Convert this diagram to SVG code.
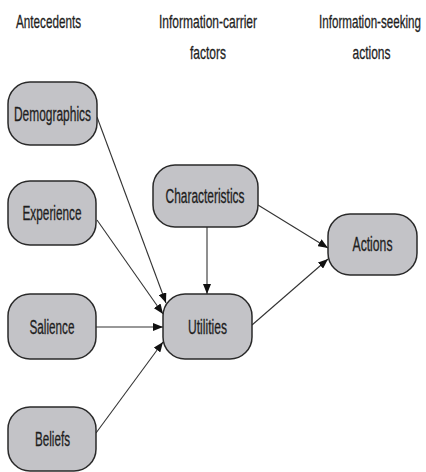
<svg xmlns="http://www.w3.org/2000/svg" width="426" height="472" viewBox="0 0 426 472">
<style>
.box{fill:#c3c3c7;stroke:#2a2a2a;stroke-width:1.5}
.lbl{font-family:"Liberation Sans",Arial,sans-serif;font-size:19.5px;fill:#1e1e1e;stroke:#1e1e1e;stroke-width:0.3;text-anchor:middle}
.hdr{font-family:"Liberation Sans",Arial,sans-serif;font-size:18.5px;fill:#1e1e1e;stroke:#1e1e1e;stroke-width:0.3;text-anchor:middle}
.edge{stroke:#333;stroke-width:1.1;fill:none;marker-end:url(#arr)}
</style>
<defs>
<marker id="arr" viewBox="0 0 10 8" refX="10" refY="4" markerWidth="10" markerHeight="8" markerUnits="userSpaceOnUse" orient="auto">
<path d="M0,0 L10,4 L0,8 Z" fill="#111"/>
</marker>
</defs>
<rect width="426" height="472" fill="#fff"/>
<g id="headers">
<text class="hdr" x="48.5" y="28" textLength="65" lengthAdjust="spacingAndGlyphs">Antecedents</text>
<text class="hdr" x="208" y="28" textLength="98" lengthAdjust="spacingAndGlyphs">Information-carrier</text>
<text class="hdr" x="208" y="59" textLength="36" lengthAdjust="spacingAndGlyphs">factors</text>
<text class="hdr" transform="translate(370,28) scale(0.628,1)" x="0" y="0">Information-seeking</text>
<text class="hdr" x="371.5" y="59" textLength="38" lengthAdjust="spacingAndGlyphs">actions</text>
</g>
<g id="connectors">
<line class="edge" x1="97" y1="117" x2="166" y2="303"/>
<line class="edge" x1="97" y1="220" x2="163" y2="314"/>
<line class="edge" x1="96" y1="327" x2="163" y2="327"/>
<line class="edge" x1="96" y1="433" x2="163" y2="342"/>
<line class="edge" x1="207" y1="227" x2="207" y2="294"/>
<line class="edge" x1="258" y1="205" x2="328" y2="248"/>
<line class="edge" x1="252" y1="325" x2="328" y2="259"/>
</g>
<g id="demographics">
<rect class="box" x="8" y="82" width="89" height="63" rx="22"/>
<text class="lbl" x="52.5" y="121" textLength="77" lengthAdjust="spacingAndGlyphs">Demographics</text>
</g>
<g id="experience">
<rect class="box" x="8" y="181" width="88" height="64" rx="22"/>
<text class="lbl" x="52" y="220" textLength="59" lengthAdjust="spacingAndGlyphs">Experience</text>
</g>
<g id="salience">
<rect class="box" x="8" y="294" width="88" height="65" rx="22"/>
<text class="lbl" x="52" y="334" textLength="45" lengthAdjust="spacingAndGlyphs">Salience</text>
</g>
<g id="beliefs">
<rect class="box" x="8" y="407" width="88" height="64" rx="22"/>
<text class="lbl" x="52.5" y="446" textLength="35" lengthAdjust="spacingAndGlyphs">Beliefs</text>
</g>
<g id="characteristics">
<rect class="box" x="153" y="165" width="105" height="62" rx="22"/>
<text class="lbl" x="205" y="203" textLength="79" lengthAdjust="spacingAndGlyphs">Characteristics</text>
</g>
<g id="utilities">
<rect class="box" x="163" y="294" width="89" height="65" rx="22"/>
<text class="lbl" x="207.5" y="334" textLength="39" lengthAdjust="spacingAndGlyphs">Utilities</text>
</g>
<g id="actions">
<rect class="box" x="328" y="214" width="89" height="61" rx="22"/>
<text class="lbl" x="372.5" y="251" textLength="40" lengthAdjust="spacingAndGlyphs">Actions</text>
</g>
</svg>
